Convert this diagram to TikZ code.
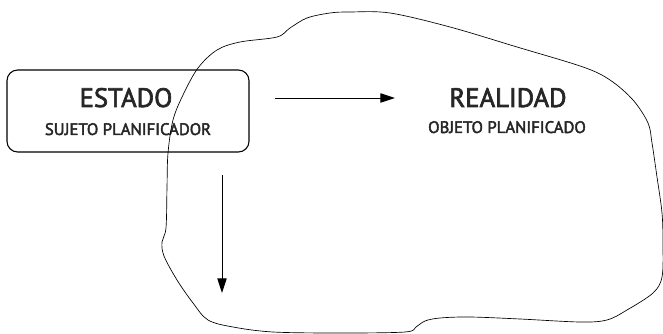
\documentclass[tikz,border=0pt]{standalone}
\usepackage{fontspec}
\newfontfamily\labfont{PT Sans}[FakeBold=2.5]
\usetikzlibrary{arrows.meta}
\begin{document}
\begin{tikzpicture}[x=0.75pt,y=-0.75pt,
  box/.style={draw, line width=0.8pt, rounded corners=8pt},
  big/.style={font=\labfont\fontsize{20}{22}\selectfont, anchor=base, inner sep=0pt, text=black!85},
  small/.style={font=\labfont\fontsize{12.5}{14}\selectfont, anchor=base, inner sep=0pt, text=black!85},
  arr/.style={line width=0.7pt, -{Triangle[length=11pt,width=7pt]}},
  blob/.style={line width=0.5pt}]
\useasboundingbox (0,0) rectangle (663,334);
\draw[box] (7,70) rectangle (249,152);
\node[big] (estado) at (126,107) {ESTADO};
\node[small] (sujeto) at (128,135) {SUJETO PLANIFICADOR};
\node[big] (realidad) at (508,107) {REALIDAD};
\node[small] (objeto) at (507,133) {OBJETO PLANIFICADO};
\coordinate (a1) at (275,98);
\coordinate (a2) at (395,98);
\coordinate (b1) at (222,175);
\coordinate (b2) at (222,293);
\draw[arr] (a1) -- (a2);
\draw[arr] (b1) -- (b2);
\draw[blob] plot[smooth cycle, tension=0.55] coordinates {
 (240,42) (217,50) (198,68) (183,95) (173,120) (168,153) (167,187) (166,228)
 (162,242) (164,256) (177,280) (193,303) (208,320) (233,327) (273,332) (340,333)
 (405,332) (416,327) (425,321) (440,318) (470,317) (520,319) (580,322) (607,320)
 (627,310) (653,293) (662,277) (663,245) (662,213) (657,177) (652,143) (648,123)
 (633,100) (610,80) (583,67) (517,47) (450,27) (390,13) (350,12) (330,13)
 (307,18) (290,28) (277,37) };
\end{tikzpicture}
\end{document}
